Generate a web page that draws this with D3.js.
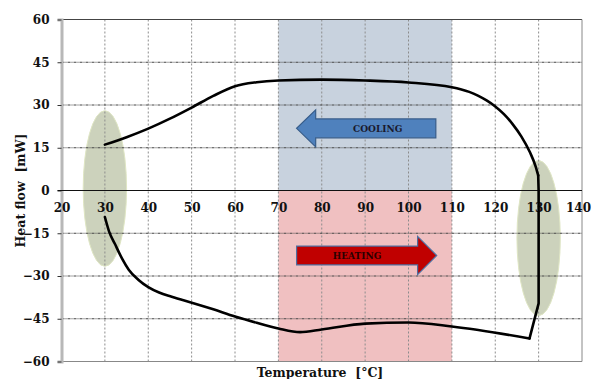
<!DOCTYPE html>
<html>
<head>
<meta charset="utf-8">
<script src="https://cdn.jsdelivr.net/npm/d3@7"></script>
<style>
  html, body { margin: 0; padding: 0; background: #fff; }
  svg { display: block; }
</style>
</head>
<body>
<svg id="chart" width="592" height="379"></svg>
<script>
// ---- data ----
const xTicks = [20, 30, 40, 50, 60, 70, 80, 90, 100, 110, 120, 130, 140];
const yTicks = [-60, -45, -30, -15, 0, 15, 30, 45, 60];

// cooling branch (upper), T [°C], heat flow [mW]
const coolingT  = [30, 35, 40, 45, 50, 55, 60, 65, 70, 80, 90, 100, 110, 112, 114, 116, 118, 120, 122, 124, 126, 128, 129.3, 129.9];
const coolingHF = [16.1, 18.7, 21.7, 25.2, 29.1, 33.2, 36.6, 38.0, 38.6, 38.9, 38.6, 37.9, 36.2, 35.5, 34.6, 33.3, 31.6, 29.5, 26.8, 23.3, 19.0, 13.4, 8.5, 5.3];

// transition at 130 °C
const turnT  = [129.9, 130, 130, 127.9];
const turnHF = [5.3, 0, -39.6, -51.9];

// heating branch (lower)
const heatingT  = [30, 31, 32.3, 34, 35.5, 37.7, 40, 42.5, 45.4, 50.8, 55, 60, 65, 70, 75, 80, 90, 100, 110, 127.9];
const heatingHF = [-9.3, -14.5, -18.7, -24.0, -27.8, -31.3, -33.9, -35.8, -37.3, -39.7, -41.7, -44.2, -46.4, -48.4, -49.7, -48.8, -46.7, -46.3, -47.7, -51.9];

// shaded bands
const bandX = [70, 110];
// highlight ellipses: center T, center HF, half-width, half-height
const ellipses = [
  { cx: 30, cy: 0.7, rx: 5, ry: 27.3 },
  { cx: 130, cy: -16.7, rx: 5, ry: 27.2 }
];
// arrows
const coolArrow = { tip: 74.2, headBase: 78.6, end: 106.3, mid: 21.8, body: 3.3, head: 6.5, label: "COOLING" };
const heatArrow = { tip: 106.5, headBase: 102.1, end: 74.2, mid: -22.8, body: 3.3, head: 6.7, label: "HEATING" };

// ---- layout ----
const svg = d3.select("#chart");
const x = d3.scaleLinear().domain([20, 140]).range([61.5, 582]);
const y = d3.scaleLinear().domain([-60, 60]).range([361.5, 19.5]);
const serif = "'DejaVu Serif', 'Liberation Serif', serif";

// bands
svg.append("rect").attr("x", x(bandX[0])).attr("y", y(60))
  .attr("width", x(bandX[1]) - x(bandX[0])).attr("height", y(0) - y(60))
  .attr("fill", "#c8d2de");
svg.append("rect").attr("x", x(bandX[0])).attr("y", y(0))
  .attr("width", x(bandX[1]) - x(bandX[0])).attr("height", y(-60) - y(0))
  .attr("fill", "#f0c0c1");

// ellipses
svg.selectAll("ellipse.hl").data(ellipses).enter().append("ellipse")
  .attr("class", "hl")
  .attr("cx", d => x(d.cx)).attr("cy", d => y(d.cy))
  .attr("rx", d => x(d.cx + d.rx) - x(d.cx))
  .attr("ry", d => y(0) - y(d.ry))
  .attr("fill", "#c7cdb5").attr("fill-opacity", 0.9)
  .attr("stroke", "#dfe6c4").attr("stroke-width", 1);

// vertical grid
svg.append("g").selectAll("line").data(xTicks.filter(t => t > 20 && t < 140)).enter().append("line")
  .attr("x1", d => x(d)).attr("x2", d => x(d))
  .attr("y1", y(60)).attr("y2", y(-60))
  .attr("stroke", "#8c8c8c").attr("stroke-width", 1).attr("stroke-dasharray", "2,2");

// horizontal grid
svg.append("g").selectAll("line").data(yTicks.filter(t => t !== 0 && t !== 60 && t !== -60)).enter().append("line")
  .attr("x1", x(20)).attr("x2", x(140))
  .attr("y1", d => y(d)).attr("y2", d => y(d))
  .attr("stroke", "#444").attr("stroke-width", 1).attr("stroke-dasharray", "3,1,1,1");

// border
svg.append("line").attr("x1", x(20)).attr("x2", x(140)).attr("y1", y(60)).attr("y2", y(60))
  .attr("stroke", "#444").attr("stroke-width", 1);
svg.append("line").attr("x1", x(20)).attr("x2", x(140)).attr("y1", y(-60)).attr("y2", y(-60))
  .attr("stroke", "#888").attr("stroke-width", 1);
svg.append("line").attr("x1", x(140)).attr("x2", x(140)).attr("y1", y(60)).attr("y2", y(-60))
  .attr("stroke", "#888").attr("stroke-width", 1);

// y axis
const yAxis = svg.append("g").attr("transform", `translate(${x(20)},0)`)
  .call(d3.axisLeft(y).tickValues(yTicks).tickSize(4).tickPadding(8));
yAxis.select(".domain").attr("stroke", "#b8b8b8").attr("stroke-width", 3);
yAxis.selectAll(".tick line").attr("stroke", "#333");
yAxis.selectAll("text").attr("font-family", serif).attr("font-weight", "bold")
  .attr("font-size", 12).attr("fill", "#111");

// zero line / x axis
const xAxis = svg.append("g").attr("transform", `translate(0,${y(0)})`)
  .call(d3.axisBottom(x).tickValues(xTicks).tickSize(0).tickPadding(13));
xAxis.select(".domain").remove();
xAxis.selectAll("text").attr("font-family", serif).attr("font-weight", "bold")
  .attr("font-size", 12).attr("fill", "#111");
xAxis.selectAll(".tick").filter(d => d === 140).select("text").attr("dx", -4);
svg.append("line").attr("x1", x(20) - 4).attr("x2", x(140)).attr("y1", y(0)).attr("y2", y(0))
  .attr("stroke", "#111").attr("stroke-width", 1.2);

// arrows
function arrowPath(a) {
  const p = [
    [a.end, a.mid + a.body], [a.headBase, a.mid + a.body], [a.headBase, a.mid + a.head],
    [a.tip, a.mid], [a.headBase, a.mid - a.head], [a.headBase, a.mid - a.body], [a.end, a.mid - a.body]
  ];
  return d3.line().x(d => x(d[0])).y(d => y(d[1]))(p) + "Z";
}
svg.append("path").attr("d", arrowPath(coolArrow))
  .attr("fill", "#4f81bd").attr("stroke", "#385d8a").attr("stroke-width", 1.2);
svg.append("text").attr("x", x((coolArrow.headBase + coolArrow.end) / 2) + 2).attr("y", y(coolArrow.mid))
  .attr("dy", "0.35em").attr("text-anchor", "middle")
  .attr("font-family", serif).attr("font-weight", "bold").attr("font-size", 9)
  .attr("fill", "#1a1a2e").text(coolArrow.label);

svg.append("path").attr("d", arrowPath(heatArrow))
  .attr("fill", "#c00000").attr("stroke", "#4f6fa0").attr("stroke-width", 1.2);
svg.append("text").attr("x", x((heatArrow.headBase + heatArrow.end) / 2)).attr("y", y(heatArrow.mid))
  .attr("dy", "0.35em").attr("text-anchor", "middle")
  .attr("font-family", serif).attr("font-weight", "bold").attr("font-size", 9)
  .attr("fill", "#2a0000").text(heatArrow.label);

// curve
const smooth = d3.line().x(d => x(d[0])).y(d => y(d[1])).curve(d3.curveMonotoneX);
const straight = d3.line().x(d => x(d[0])).y(d => y(d[1]));
const curveStyle = sel => sel.attr("fill", "none").attr("stroke", "#000").attr("stroke-width", 2.6)
  .attr("stroke-linejoin", "round").attr("stroke-linecap", "round");
svg.append("path").attr("d", smooth(coolingT.map((t, i) => [t, coolingHF[i]]))).call(curveStyle);
svg.append("path").attr("d", straight(turnT.map((t, i) => [t, turnHF[i]]))).call(curveStyle);
svg.append("path").attr("d", smooth(heatingT.map((t, i) => [t, heatingHF[i]]))).call(curveStyle);

// axis titles
svg.append("text").attr("transform", `translate(25,${y(0)}) rotate(-90)`)
  .attr("text-anchor", "middle").attr("font-family", serif).attr("font-weight", "bold")
  .attr("font-size", 12.5).attr("fill", "#111").attr("xml:space", "preserve").text("Heat flow  [mW]");
svg.append("text").attr("x", 320).attr("y", 377)
  .attr("text-anchor", "middle").attr("font-family", serif).attr("font-weight", "bold")
  .attr("font-size", 12.5).attr("fill", "#111").attr("xml:space", "preserve").text("Temperature  [°C]");
</script>
</body>
</html>
